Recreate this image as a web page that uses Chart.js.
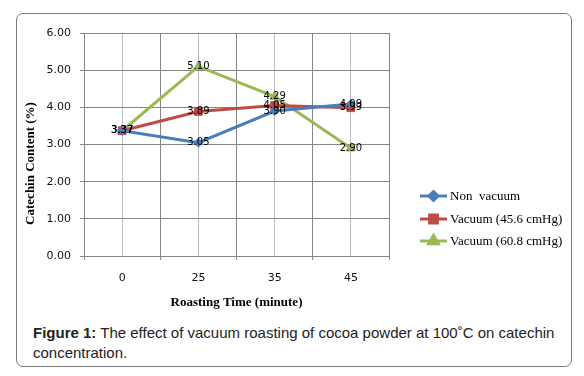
<!DOCTYPE html>
<html>
<head>
<meta charset="utf-8">
<script src="https://cdn.jsdelivr.net/npm/chart.js@4.4.1/dist/chart.umd.min.js"></script>
<style>
  html, body { margin: 0; padding: 0; background: #fff; }
  body { width: 584px; height: 376px; position: relative; overflow: hidden; }
  #frame { position: absolute; left: 16px; top: 13px; width: 556px; height: 354px;
           border: 1px solid #7a7a7a; border-radius: 7px; box-sizing: border-box; }
  #wrap { position: absolute; left: 0; top: 0; width: 584px; height: 320px; }
  #caption { position: absolute; left: 33px; top: 323px; font-family: "Liberation Sans", Arial, sans-serif;
             font-size: 15px; line-height: 20px; color: #222; white-space: nowrap; }
</style>
</head>
<body>
<div id="frame"></div>
<div id="wrap"><canvas id="c" width="584" height="320"></canvas></div>
<div id="caption"><b>Figure 1:</b> The effect of vacuum roasting of cocoa powder at 100˚C on catechin<br>concentration.</div>
<script>
const categories = ['0', '25', '35', '45'];
const nonVacuum = [3.37, 3.05, 3.90, 4.09];
const vacuum456 = [3.37, 3.89, 4.05, 3.99];
const vacuum608 = [3.37, 5.10, 4.29, 2.90];
const seriesNames = ['Non  vacuum', 'Vacuum (45.6 cmHg)', 'Vacuum (60.8 cmHg)'];
const yTicks = [0, 1, 2, 3, 4, 5, 6];
const xTitle = 'Roasting Time (minute)';
const yTitle = 'Catechin Content (%)';

const toPts = arr => arr.map((v, i) => ({ x: i, y: v }));

const dataLabels = {
  id: 'dataLabels',
  afterDatasetsDraw(chart) {
    const ctx = chart.ctx;
    ctx.save();
    ctx.font = '10px "DejaVu Sans", sans-serif';
    ctx.fillStyle = '#000';
    ctx.textAlign = 'center';
    ctx.textBaseline = 'middle';
    chart.data.datasets.forEach((ds, di) => {
      chart.getDatasetMeta(di).data.forEach((pt, i) => {
        ctx.fillText(ds.data[i].y.toFixed(2), pt.x, pt.y);
      });
    });
    ctx.restore();
  }
};

const customLegend = {
  id: 'customLegend',
  afterDraw(chart) {
    const ctx = chart.ctx;
    const rows = [196, 219, 241];
    ctx.save();
    chart.data.datasets.forEach((ds, i) => {
      const y = rows[i];
      ctx.strokeStyle = ds.borderColor;
      ctx.lineWidth = 3;
      ctx.beginPath(); ctx.moveTo(420, y); ctx.lineTo(447, y); ctx.stroke();
      ctx.fillStyle = ds.backgroundColor;
      Chart.helpers.drawPoint(ctx, { pointStyle: ds.pointStyle, radius: ds.pointRadius, borderWidth: 1 }, 433.5, y);
      ctx.fill();
      ctx.fillStyle = '#000';
      ctx.font = '13px "Liberation Serif", "Times New Roman", serif';
      ctx.textAlign = 'left';
      ctx.textBaseline = 'middle';
      ctx.fillText(ds.label, 450, y + 1);
    });
    // y axis title
    ctx.translate(31, 163.5);
    ctx.rotate(-Math.PI / 2);
    ctx.font = 'bold 13px "Liberation Serif", "Times New Roman", serif';
    ctx.textAlign = 'center';
    ctx.textBaseline = 'middle';
    ctx.fillStyle = '#000';
    ctx.fillText(yTitle, 0, 0);
    ctx.restore();
  }
};

const colors = ['#4a7ebb', '#be4b48', '#98b954'];
const styles = ['rectRot', 'rect', 'triangle'];
const radii = [4.5, 5.5, 5.5];
const allSeries = [nonVacuum, vacuum456, vacuum608];

new Chart(document.getElementById('c'), {
  type: 'line',
  data: {
    datasets: allSeries.map((s, i) => ({
      label: seriesNames[i],
      data: toPts(s),
      borderColor: colors[i],
      backgroundColor: colors[i],
      borderWidth: 3,
      pointStyle: styles[i],
      pointRadius: radii[i],
      pointBorderWidth: 1,
      pointBackgroundColor: colors[i],
      pointBorderColor: colors[i],
      tension: 0
    }))
  },
  options: {
    responsive: false,
    animation: false,
    devicePixelRatio: 1,
    layout: { padding: { left: 16, top: 33, right: 195, bottom: 0 } },
    plugins: { legend: { display: false }, tooltip: { enabled: false } },
    scales: {
      x: {
        type: 'linear',
        min: -0.5, max: 3.5,
        afterFit(scale) { scale.height = 64; },
        afterBuildTicks(scale) {
          const t = [];
          for (let v = -0.5; v <= 3.5001; v += 0.5) t.push({ value: v });
          scale.ticks = t;
        },
        ticks: {
          autoSkip: false, maxRotation: 0, padding: 12, color: '#111',
          font: { family: '"DejaVu Sans", sans-serif', size: 11 },
          callback: v => Number.isInteger(v) ? categories[v] : ''
        },
        grid: {
          color: c => (c.tick && Number.isInteger(c.tick.value)) ? '#bcbcbc' : '#868686',
          tickColor: c => (c.tick && Number.isInteger(c.tick.value)) ? 'rgba(0,0,0,0)' : '#868686',
          tickLength: 4, lineWidth: 1
        },
        border: { color: '#868686' },
        title: {
          display: true, text: xTitle, color: '#000',
          font: { family: '"Liberation Serif", "Times New Roman", serif', size: 13, weight: 'bold' },
          padding: { top: 0, bottom: 10 }
        }
      },
      y: {
        min: 0, max: 6,
        afterFit(scale) { scale.width = 68; },
        afterBuildTicks(scale) { scale.ticks = yTicks.map(v => ({ value: v })); },
        ticks: {
          padding: 9, color: '#111',
          font: { family: '"DejaVu Sans", sans-serif', size: 11 },
          callback: v => v.toFixed(2)
        },
        grid: { color: '#868686', tickColor: '#868686', tickLength: 4, lineWidth: 1 },
        border: { color: '#868686' }
      }
    }
  },
  plugins: [dataLabels, customLegend]
});
</script>
</body>
</html>
